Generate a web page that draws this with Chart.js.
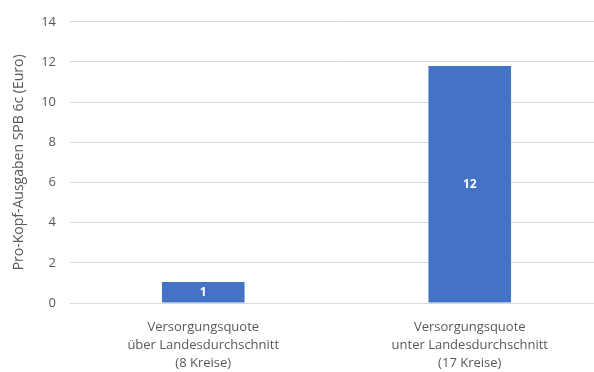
<!DOCTYPE html>
<html>
<head>
<meta charset="utf-8">
<script src="https://cdn.jsdelivr.net/npm/chart.js@4"></script>
<style>
  html, body { margin: 0; padding: 0; background: #fff; overflow: hidden; }
  #wrap { width: 610px; height: 372px; position: relative; }
</style>
</head>
<body>
<div id="wrap"><canvas id="chartSPB"></canvas></div>
<script>
const categories = [
    ["Versorgungsquote", "über Landesdurchschnitt", "(8 Kreise)"],
    ["Versorgungsquote", "unter Landesdurchschnitt", "(17 Kreise)"]
];
const ausgaben = [1.05, 11.8];
const ausgabenLabels = ["1", "12"];
const yTicks = [0, 2, 4, 6, 8, 10, 12, 14];
const yTitle = "Pro-Kopf-Ausgaben SPB 6c (Euro)";

const FONT = "'Open Sans', 'Noto Sans', sans-serif";
const GRAU = "#595959";

// Werte mittig in die Balken schreiben
const barLabels = {
    id: "barLabels",
    afterDatasetsDraw(chart) {
        const ctx = chart.ctx;
        const meta = chart.getDatasetMeta(0);
        ctx.save();
        ctx.fillStyle = "#fff";
        ctx.font = "bold 12px " + FONT;
        ctx.textAlign = "center";
        ctx.textBaseline = "middle";
        meta.data.forEach((bar, i) => {
            const y = (bar.y + bar.base) / 2;
            ctx.fillText(ausgabenLabels[i], bar.x, y);
        });
        ctx.restore();
    }
};

new Chart(document.getElementById("chartSPB"), {
    type: "bar",
    data: {
        labels: categories,
        datasets: [{
            data: ausgaben,
            backgroundColor: "#4472C4",
            borderWidth: 0,
            barPercentage: 0.31,
            categoryPercentage: 1
        }]
    },
    options: {
        responsive: true,
        maintainAspectRatio: false,
        animation: false,
        layout: { padding: { top: 12, right: 7, left: 0, bottom: 0 } },
        plugins: {
            legend: { display: false },
            tooltip: { enabled: false }
        },
        scales: {
            x: {
                grid: { display: false },
                border: { display: false },
                ticks: {
                    color: GRAU,
                    font: { family: FONT, size: 13, lineHeight: 1.38 },
                    padding: 7,
                    maxRotation: 0,
                    autoSkip: false
                },
                afterFit(scale) { scale.height = 69; }
            },
            y: {
                min: 0,
                max: 14,
                afterBuildTicks(scale) { scale.ticks = yTicks.map(v => ({ value: v })); },
                grid: { color: "#d9d9d9", drawTicks: false, lineWidth: 1 },
                border: { display: false },
                ticks: {
                    color: GRAU,
                    font: { family: FONT, size: 13 },
                    padding: 14
                },
                title: {
                    display: true,
                    text: yTitle,
                    color: GRAU,
                    font: { family: FONT, size: 14 },
                    padding: { top: 11, bottom: 0 }
                },
                afterFit(scale) { scale.width = 70; }
            }
        }
    },
    plugins: [barLabels]
});
</script>
</body>
</html>
